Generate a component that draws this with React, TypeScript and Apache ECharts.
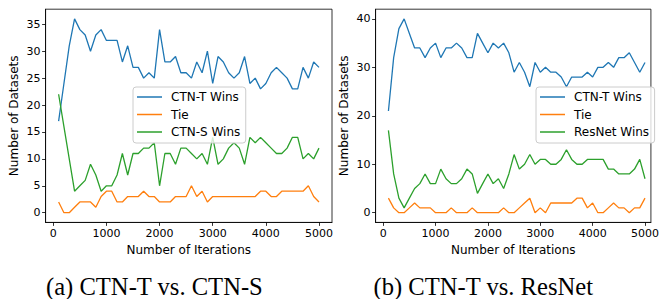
import React, { useEffect, useRef } from "react";
import * as echarts from "echarts";

const iterations = [
  100, 200, 300, 400, 500, 600, 700, 800, 900, 1000,
  1100, 1200, 1300, 1400, 1500, 1600, 1700, 1800, 1900, 2000,
  2100, 2200, 2300, 2400, 2500, 2600, 2700, 2800, 2900, 3000,
  3100, 3200, 3300, 3400, 3500, 3600, 3700, 3800, 3900, 4000,
  4100, 4200, 4300, 4400, 4500, 4600, 4700, 4800, 4900, 5000,
];

const leftCtnTWins = [
  17, 24, 31, 36, 34, 33, 30, 33, 34, 32,
  32, 32, 28, 31, 27, 27, 25, 26, 25, 34,
  28, 28, 29, 26, 26, 25, 28, 26, 30, 24,
  29, 28, 26, 25, 26, 29, 24, 25, 23, 24,
  26, 27, 26, 25, 23, 23, 27, 25, 28, 27,
];
const leftTie = [
  2, 0, 0, 1, 2, 2, 2, 1, 3, 4,
  4, 2, 2, 3, 3, 3, 4, 3, 3, 2,
  2, 2, 3, 3, 3, 5, 3, 4, 2, 3,
  3, 3, 3, 3, 3, 3, 3, 3, 4, 4,
  3, 3, 4, 4, 4, 4, 4, 5, 3, 2,
];
const leftCtnSWins = [
  22, 16, 10, 4, 5, 6, 9, 7, 4, 5,
  5, 7, 11, 7, 11, 11, 12, 12, 13, 5,
  11, 11, 9, 12, 12, 11, 10, 11, 9, 14,
  9, 10, 12, 13, 12, 9, 14, 13, 14, 13,
  12, 11, 11, 12, 14, 14, 10, 11, 10, 12,
];

const rightCtnTWins = [
  21, 32, 38, 40, 37, 34, 34, 32, 34, 35,
  32, 34, 34, 35, 34, 32, 32, 37, 35, 33,
  35, 34, 35, 33, 29, 31, 29, 26, 31, 29,
  30, 29, 29, 28, 26, 28, 28, 28, 29, 28,
  30, 30, 31, 30, 32, 32, 33, 31, 29, 31,
];
const rightTie = [
  3, 1, 0, 0, 1, 2, 1, 1, 1, 0,
  0, 0, 1, 0, 0, 0, 1, 0, 0, 0,
  0, 0, 1, 0, 0, 1, 2, 3, 0, 1,
  0, 2, 2, 2, 2, 2, 3, 3, 1, 2,
  0, 0, 1, 2, 1, 1, 0, 1, 1, 3,
];
const rightResNetWins = [
  17, 8, 3, 1, 3, 5, 6, 8, 6, 6,
  9, 7, 6, 6, 7, 9, 8, 4, 6, 8,
  6, 7, 5, 8, 12, 9, 10, 12, 10, 11,
  11, 10, 10, 11, 13, 11, 10, 10, 11, 11,
  11, 11, 9, 9, 8, 8, 8, 9, 11, 7,
];

const xTicks = [0, 1000, 2000, 3000, 4000, 5000];
const leftYTicks = [0, 5, 10, 15, 20, 25, 30, 35];
const rightYTicks = [0, 10, 20, 30, 40];

const xTitle = "Number of Iterations";
const yTitle = "Number of Datasets";
const captionA = "(a) CTN-T vs. CTN-S";
const captionB = "(b) CTN-T vs. ResNet";

const BLUE = "#1f77b4";
const ORANGE = "#ff7f0e";
const GREEN = "#2ca02c";
const FONT = "DejaVu Sans";

const pairs = (vals: number[]) => iterations.map((x, i) => [x, vals[i]]);

function makeXAxis(gridIndex: number, max: number) {
  return {
    type: "value",
    gridIndex,
    min: -145,
    max,
    name: xTitle,
    nameLocation: "middle",
    nameGap: 19,
    nameTextStyle: { fontFamily: FONT, fontSize: 12, color: "#000" },
    splitLine: { show: false },
    axisLine: { show: true, onZero: false, lineStyle: { color: "#000", width: 0.8 } },
    axisTick: {
      show: true,
      length: 3.5,
      customValues: xTicks,
      lineStyle: { color: "#000", width: 0.8 },
    },
    axisLabel: {
      customValues: xTicks,
      formatter: (v: number) => String(v),
      margin: 5.5,
      fontFamily: FONT,
      fontSize: 11,
      color: "#000",
    },
  };
}

function makeYAxis(gridIndex: number, min: number, max: number, ticks: number[]) {
  return {
    type: "value",
    gridIndex,
    min,
    max,
    name: yTitle,
    nameLocation: "middle",
    nameGap: 26,
    nameTextStyle: { fontFamily: FONT, fontSize: 12, color: "#000" },
    splitLine: { show: false },
    axisLine: { show: true, onZero: false, lineStyle: { color: "#000", width: 0.8 } },
    axisTick: {
      show: true,
      length: 3.5,
      customValues: ticks,
      lineStyle: { color: "#000", width: 0.8 },
    },
    axisLabel: {
      customValues: ticks,
      formatter: (v: number) => String(v),
      margin: 5,
      fontFamily: FONT,
      fontSize: 11,
      color: "#000",
    },
  };
}

function line(name: string, color: string, vals: number[], idx: number) {
  return {
    type: "line",
    name,
    xAxisIndex: idx,
    yAxisIndex: idx,
    data: pairs(vals),
    symbol: "none",
    lineStyle: { color, width: 1.3 },
    itemStyle: { color },
    color,
  };
}

function legendAt(left: number, names: string[]) {
  return {
    orient: "vertical",
    left,
    top: 87,
    data: names,
    icon: "rect",
    itemWidth: 25,
    itemHeight: 1.5,
    itemGap: 5.5,
    padding: [4, 5.5, 5, 4],
    backgroundColor: "rgba(255,255,255,0.8)",
    borderColor: "#cccccc",
    borderWidth: 1,
    borderRadius: 3,
    textStyle: { fontFamily: FONT, fontSize: 12, color: "#000", padding: [0, 0, 0, 4] },
    selectedMode: false,
  };
}

export default function App() {
  const ref = useRef<HTMLDivElement>(null);
  useEffect(() => {
    if (!ref.current) return;
    const chart = echarts.init(ref.current, undefined, { renderer: "svg" });
    const gridTop = 9.2;
    const gridHeight = 213.2;
    chart.setOption({
      animation: false,
      backgroundColor: "#fff",
      grid: [
        {
          left: 45.6,
          top: gridTop,
          width: 286.4,
          height: gridHeight,
          show: true,
          borderColor: "#000",
          borderWidth: 0.8,
          backgroundColor: "transparent",
        },
        {
          left: 375.6,
          top: gridTop,
          width: 279.4,
          height: gridHeight,
          show: true,
          borderColor: "#000",
          borderWidth: 0.8,
          backgroundColor: "transparent",
        },
      ],
      xAxis: [makeXAxis(0, 5245), makeXAxis(1, 5113)],
      yAxis: [makeYAxis(0, -1.8, 37.8, leftYTicks), makeYAxis(1, -2, 42, rightYTicks)],
      legend: [
        legendAt(133, ["CTN-T Wins", "Tie", "CTN-S Wins"]),
        legendAt(536, ["CTN-T Wins ", "Tie ", "ResNet Wins"]),
      ],
      series: [
        line("CTN-T Wins", BLUE, leftCtnTWins, 0),
        line("Tie", ORANGE, leftTie, 0),
        line("CTN-S Wins", GREEN, leftCtnSWins, 0),
        line("CTN-T Wins ", BLUE, rightCtnTWins, 1),
        line("Tie ", ORANGE, rightTie, 1),
        line("ResNet Wins", GREEN, rightResNetWins, 1),
      ],
      graphic: [
        {
          type: "text",
          x: 46,
          y: 286,
          style: {
            text: captionA,
            fontFamily: "Liberation Serif",
            fontSize: 24.6,
            fill: "#000",
            verticalAlign: "middle",
          },
        },
        {
          type: "text",
          x: 373.5,
          y: 286,
          style: {
            text: captionB,
            fontFamily: "Liberation Serif",
            fontSize: 24.6,
            fill: "#000",
            verticalAlign: "middle",
          },
        },
      ],
    });
    return () => chart.dispose();
  }, []);
  return (
    <div
      ref={ref}
      style={{ position: "fixed", left: 0, top: 0, width: 662, height: 299, background: "#fff" }}
    />
  );
}
